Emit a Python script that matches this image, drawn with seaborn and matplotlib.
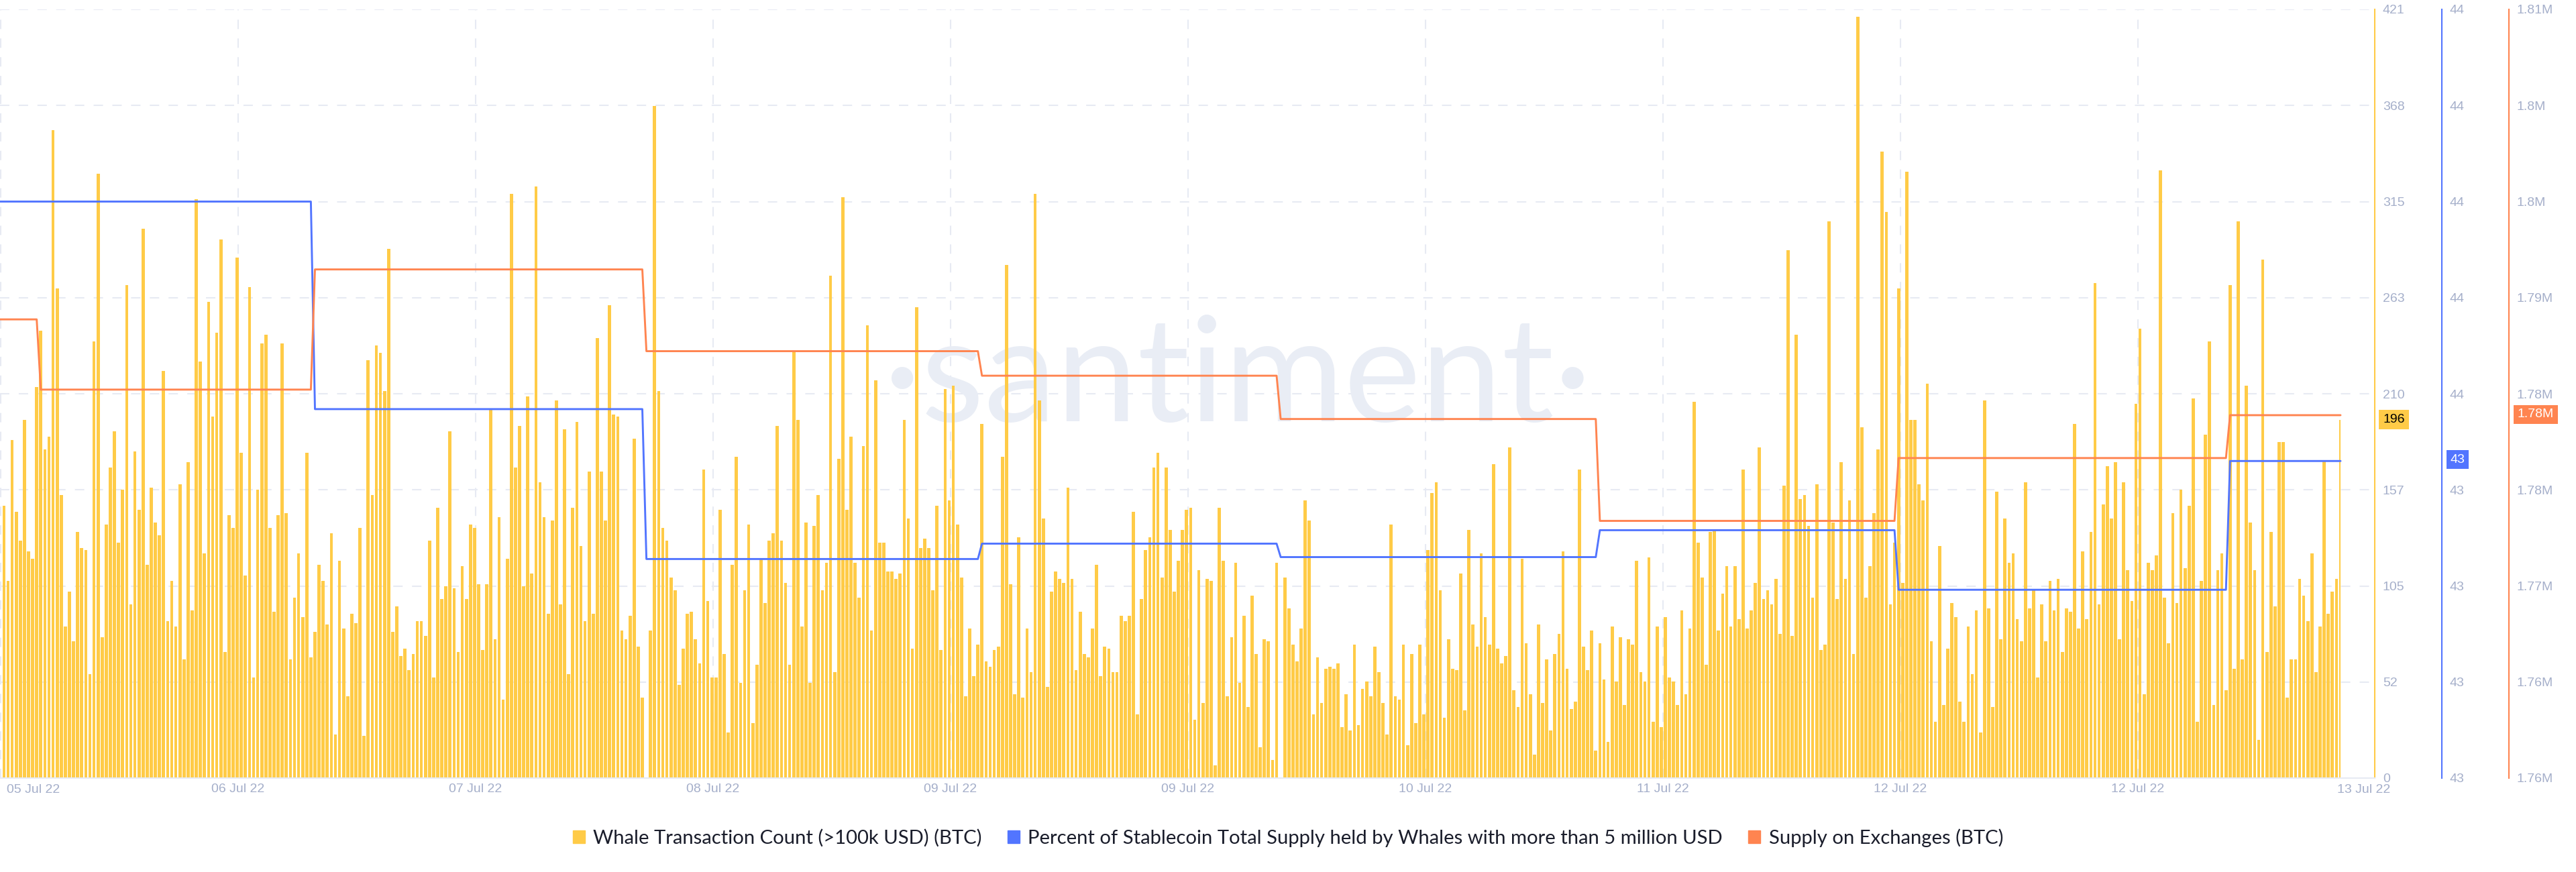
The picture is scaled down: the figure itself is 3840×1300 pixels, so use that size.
import numpy as np
import pandas as pd
import matplotlib.pyplot as plt
from matplotlib.patches import Patch
import seaborn as sns

# ---------------------------------------------------------
# Data
# ---------------------------------------------------------

whale_counts_a = [
    149, 108, 185, 146, 130, 196, 124, 120, 214, 245, 180, 187, 355, 268, 155, 83, 102, 75, 135, 126,
    125, 57, 239, 331, 77, 139, 170, 190, 129, 158, 270, 95, 179, 147, 301, 117, 159, 140, 133, 223,
    86, 108, 83, 161, 65, 173, 92, 317, 228, 123, 261, 198, 244, 295, 69, 144, 137, 285, 178, 111,
    269, 55, 158, 238, 243, 137, 91, 144, 238, 145, 65, 99, 123, 88, 178, 66, 80, 117, 108, 84,
    134, 24, 119, 82, 45, 90, 85, 137, 23, 229, 155, 237, 233, 212, 290, 80, 94, 67, 71, 59,
    68, 86, 86, 78, 130, 55, 148, 98, 105, 190, 104, 69, 116, 98, 139, 137, 106, 70, 106, 202,
    76, 143, 43, 120, 320, 170, 193, 105, 209, 112, 324, 162, 143, 90, 141, 207, 95, 191, 57, 148,
    195, 127, 86, 168, 90, 241, 168,
]
whale_counts_b = [
    141, 259, 199, 198, 81, 76, 89, 186, 72, 44, 0, 81, 368, 212, 137, 130, 110, 103, 51, 71,
    90, 91, 76, 63, 169, 97, 55, 55, 147, 68, 25, 117, 176, 52, 103, 139, 30, 62, 120, 96,
    130, 134, 193, 130, 107, 62, 234, 196, 83, 140, 52, 138, 155, 103, 118, 275, 58, 175, 318, 147,
    187, 118, 99, 182, 248, 81, 218, 129, 129, 113, 113, 109, 112, 196, 142, 71, 258, 126, 131, 126,
    103, 149, 70, 213, 152, 215, 139, 110, 45, 82, 56, 73, 194, 64, 61, 70, 72, 176, 281, 106,
    46, 132, 44, 82, 58, 320, 207, 142, 50, 102, 113, 109, 107, 159, 109, 59, 91, 68, 66, 82,
    117, 56, 72, 71, 58, 58, 89, 86, 89, 146, 35, 98, 125, 132, 170, 178, 110, 170, 136, 102,
    119, 136, 147, 148, 32, 114, 41,
]
whale_counts_c = [
    109, 108, 7, 148, 119, 45, 77, 118, 52, 89, 39, 100, 68, 17, 76, 75, 10, 118, 0, 110,
    93, 73, 64, 82, 152, 141, 35, 66, 41, 60, 61, 60, 63, 28, 46, 26, 73, 29, 49, 53,
    45, 72, 58, 41, 24, 139, 45, 43, 73, 18, 68, 30, 73, 35, 125, 156, 162, 103, 33, 76,
    60, 59, 112, 37, 136, 84, 72, 123, 88, 73, 172, 71, 63, 67, 181, 48, 39, 120, 74, 46,
    13, 84, 41, 65, 26, 68, 79, 124, 60, 38, 42, 169, 72, 59, 81, 15, 74, 54, 20, 83,
    53, 77, 40, 76, 73, 119, 58, 53, 121, 31, 83, 28, 88, 55, 53, 40, 92, 46, 82, 206,
    129, 110, 62, 135, 136, 81, 101, 116, 83, 116, 87, 169, 82, 92, 107, 181, 98, 103, 95, 109,
    79, 160, 289, 78, 243, 153, 155, 138,
]
whale_counts_d = [
    99, 161, 70, 73, 305, 140, 98, 173, 109, 152, 68, 417, 192, 99, 116, 145, 180, 343, 310, 95,
    129, 268, 107, 332, 196, 196, 161, 152, 216, 75, 31, 127, 40, 71, 96, 88, 42, 31, 83, 57,
    92, 25, 207, 93, 39, 157, 76, 142, 118, 123, 87, 75, 162, 93, 103, 55, 95, 75, 108, 92,
    109, 69, 93, 91, 194, 82, 124, 87, 135, 271, 95, 150, 171, 142, 173, 76, 162, 114, 97, 205,
    246, 46, 118, 114, 122, 333, 99, 74, 145, 96, 158, 115, 149, 208, 31, 108, 188, 239, 40, 114,
    123, 48, 270, 60, 305, 65, 215, 140, 114, 21, 284, 69, 135, 94, 184, 184, 44, 65, 65, 109,
    100, 86, 123, 58, 83, 174, 90, 102, 109, 196,
]
whale_counts = whale_counts_a + whale_counts_b + whale_counts_c + whale_counts_d

# last bar of each flat stretch of the two step lines
step_ends = [8, 75, 156, 238, 311, 389, 462, 543]
stable_levels = [43.600, 43.600, 43.492, 43.414, 43.422, 43.415, 43.429, 43.398, 43.465]
exchange_levels = [1788030, 1783280, 1791410, 1785880, 1784220, 1781290, 1774400, 1778650, 1781550]

whale_ticks = [0, 52, 105, 157, 210, 263, 315, 368, 421]
stable_ticks = ["43", "43", "43", "43", "44", "44", "44", "44", "44"]
exchange_ticks = ["1.76M", "1.76M", "1.77M", "1.78M", "1.78M", "1.79M", "1.8M", "1.8M", "1.81M"]
date_labels = ["", "06 Jul 22", "07 Jul 22", "08 Jul 22", "09 Jul 22", "09 Jul 22",
               "10 Jul 22", "11 Jul 22", "12 Jul 22", "12 Jul 22", ""]

# ---------------------------------------------------------
# Style
# ---------------------------------------------------------

YELLOW = "#FFCB47"
BLUE = "#5275FF"
ORANGE = "#FF8450"
GRID = "#E7EAF3"
TICK = "#A5AFCA"
W, H = 3840, 1300
TOP, BOTTOM, RIGHT = 14, 1160, 3540
FIRST_BAR, LAST_BAR = 5.9, 3489.0

sns.set_theme(style="white")
plt.rcParams["font.family"] = ["Liberation Sans", "DejaVu Sans"]

# ---------------------------------------------------------
# Build tables
# ---------------------------------------------------------

n = len(whale_counts)
bars = pd.DataFrame({"i": np.arange(n), "count": whale_counts})

sizes = np.diff([-2] + step_ends + [n - 1])
lines = pd.DataFrame({
    "i": np.arange(-1, n),
    "stable": np.repeat(stable_levels, sizes),
    "exchange": np.repeat(exchange_levels, sizes),
})

# ---------------------------------------------------------
# Plot
# ---------------------------------------------------------

fig = plt.figure(figsize=(W / 100, H / 100), dpi=100, facecolor="white")
ax = fig.add_axes([0, 1 - BOTTOM / H, RIGHT / W, (BOTTOM - TOP) / H])

sns.barplot(data=bars, x="i", y="count", native_scale=True, width=0.76, color=YELLOW,
            saturation=1, linewidth=0, ax=ax)
last_bar = ax.patches[-1]
last_bar.set_width(last_bar.get_width() / 2)

spacing = (LAST_BAR - FIRST_BAR) / (n - 1)
ax.set_xlim(-FIRST_BAR / spacing, (RIGHT - FIRST_BAR) / spacing)
ax.set_ylim(0, 421)
ax.set_xticks([(354 * k + 1 - FIRST_BAR) / spacing for k in range(len(date_labels))])
ax.set_xticklabels(date_labels)
ax.set_yticks(np.linspace(0, 421, 9))
ax.set_yticklabels(whale_ticks)
ax.set_xlabel("")
ax.set_ylabel("")
ax.tick_params(axis="x", length=0, pad=6, labelsize=14, labelcolor=TICK)
ax.set_axisbelow(True)
ax.grid(True, color=GRID, linewidth=1.5, linestyle=(0, (6.7, 6.7)))
ax.text(1845 / RIGHT, (BOTTOM - 628) / (BOTTOM - TOP), "·santiment·", transform=ax.transAxes, fontsize=156,
        color="#E9EDF5", family="Lato", ha="center", va="baseline", zorder=0.6)

for side in ["top", "left"]:
    ax.spines[side].set_visible(False)
ax.spines["bottom"].set_color(GRID)
ax.spines["bottom"].set_linewidth(1.5)
ax.spines["right"].set_color(YELLOW)
ax.spines["right"].set_linewidth(1.5)

ax_stable = ax.twinx()
sns.lineplot(data=lines, x="i", y="stable", color=BLUE, linewidth=2.1, estimator=None, ax=ax_stable)
ax_stable.set_ylim(43.3, 43.7)
ax_stable.set_yticks(np.linspace(43.3, 43.7, 9))
ax_stable.set_yticklabels(stable_ticks)

ax_exchange = ax.twinx()
sns.lineplot(data=lines, x="i", y="exchange", color=ORANGE, linewidth=2.1, estimator=None, ax=ax_exchange)
ax_exchange.set_ylim(1757000, 1809000)
ax_exchange.set_yticks(np.linspace(1757000, 1809000, 9))
ax_exchange.set_yticklabels(exchange_ticks)

for axis, color, spine_px in [(ax_stable, BLUE, 3640), (ax_exchange, ORANGE, 3740)]:
    axis.set_ylabel("")
    axis.set_xlabel("")
    for side in ["top", "left", "bottom"]:
        axis.spines[side].set_visible(False)
    axis.spines["right"].set_position(("axes", spine_px / RIGHT))
    axis.spines["right"].set_color(color)
    axis.spines["right"].set_linewidth(1.5)
    axis.tick_params(axis="y", length=0, pad=8.5, labelsize=14, labelcolor=TICK)

# twinx moves the first axis' ticks back to the left
ax.yaxis.tick_right()
ax.tick_params(axis="y", length=0, pad=8.5, labelsize=14, labelcolor=TICK)
ax.set_xlim(-FIRST_BAR / spacing, (RIGHT - FIRST_BAR) / spacing)

# end labels of the date axis sit inside the canvas, not on their ticks
fig.text(10 / W, 1 - 1178 / H, "05 Jul 22", ha="left", va="center", fontsize=14, color=TICK)
fig.text(3484 / W, 1 - 1178 / H, "13 Jul 22", ha="left", va="center", fontsize=14, color=TICK)

# current value tags
fig.text(3568.5 / W, 1 - 625.5 / H, str(whale_counts[-1]), ha="center", va="center", fontsize=14, color="black",
         bbox=dict(boxstyle="square,pad=0.3", facecolor=YELLOW, edgecolor="none"))
fig.text(3663.5 / W, 1 - 685 / H, "43", ha="center", va="center", fontsize=14, color="white",
         bbox=dict(boxstyle="square,pad=0.3", facecolor=BLUE, edgecolor="none"))
fig.text(3780 / W, 1 - 618 / H, "1.78M", ha="center", va="center", fontsize=14, color="white",
         bbox=dict(boxstyle="square,pad=0.3", facecolor=ORANGE, edgecolor="none"))

handles = [
    Patch(color=YELLOW, label="Whale Transaction Count (>100k USD) (BTC)"),
    Patch(color=BLUE, label="Percent of Stablecoin Total Supply held by Whales with more than 5 million USD"),
    Patch(color=ORANGE, label="Supply on Exchanges (BTC)"),
]
fig.legend(handles=handles, loc="center", bbox_to_anchor=(0.5, 1 - 1249 / H), ncol=3, frameon=False,
           prop={"family": "Lato", "size": 21.1}, labelcolor="#1A1D2B", handlelength=0.62, handleheight=0.62,
           handletextpad=0.42, columnspacing=1.3)

fig.savefig("out.png", dpi=100, facecolor="white")
